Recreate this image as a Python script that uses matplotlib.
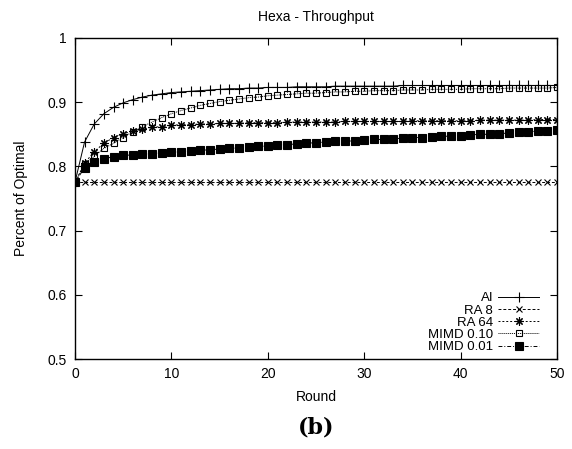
import matplotlib
matplotlib.use("Agg")
import matplotlib.pyplot as plt

plt.rcParams['font.family'] = ['Liberation Sans', 'DejaVu Sans']

rounds = list(range(51))

ai = [0.775, 0.838, 0.866, 0.882, 0.892, 0.899, 0.904, 0.908, 0.911, 0.913,
      0.915, 0.916, 0.917, 0.918, 0.919, 0.920, 0.921, 0.921, 0.922, 0.922,
      0.923, 0.923, 0.923, 0.924, 0.924, 0.924, 0.924, 0.925, 0.925, 0.925,
      0.925, 0.925, 0.925, 0.925, 0.926, 0.926, 0.926, 0.926, 0.926, 0.926,
      0.926, 0.926, 0.926, 0.926, 0.926, 0.926, 0.926, 0.926, 0.926, 0.926,
      0.926]

ra8 = [0.775] * 51

ra64 = [0.775, 0.805, 0.823, 0.836, 0.845, 0.851, 0.855, 0.858, 0.861, 0.862,
        0.864, 0.865, 0.865, 0.866, 0.866, 0.867, 0.867, 0.867, 0.868, 0.868,
        0.868, 0.868, 0.869, 0.869, 0.869, 0.869, 0.869, 0.869, 0.870, 0.870,
        0.870, 0.870, 0.870, 0.870, 0.870, 0.871, 0.871, 0.871, 0.871, 0.871,
        0.871, 0.871, 0.872, 0.872, 0.872, 0.872, 0.872, 0.872, 0.873, 0.873,
        0.873]

mimd10 = [0.775, 0.803, 0.816, 0.828, 0.836, 0.845, 0.854, 0.862, 0.869, 0.876,
          0.882, 0.887, 0.891, 0.895, 0.898, 0.901, 0.903, 0.905, 0.907, 0.908,
          0.910, 0.911, 0.912, 0.913, 0.914, 0.914, 0.915, 0.916, 0.916, 0.917,
          0.917, 0.918, 0.918, 0.918, 0.919, 0.919, 0.919, 0.920, 0.920, 0.920,
          0.920, 0.921, 0.921, 0.921, 0.921, 0.922, 0.922, 0.922, 0.922, 0.922,
          0.923]

mimd01 = [0.775, 0.798, 0.807, 0.812, 0.815, 0.817, 0.818, 0.819, 0.820, 0.821,
          0.822, 0.823, 0.824, 0.825, 0.826, 0.827, 0.828, 0.829, 0.830, 0.831,
          0.832, 0.833, 0.834, 0.835, 0.836, 0.837, 0.838, 0.839, 0.839, 0.840,
          0.841, 0.842, 0.842, 0.843, 0.844, 0.845, 0.845, 0.846, 0.847, 0.847,
          0.848, 0.849, 0.850, 0.850, 0.851, 0.852, 0.853, 0.854, 0.855, 0.855,
          0.857]

xticks = [0, 10, 20, 30, 40, 50]
yticks = [0.5, 0.6, 0.7, 0.8, 0.9, 1.0]
ytick_labels = ["0.5", "0.6", "0.7", "0.8", "0.9", "1"]

fig = plt.figure(figsize=(5.72, 4.49), dpi=100)
ax = fig.add_axes([0.131, 0.2004, 0.843, 0.715])

lw = 0.7
ax.plot(rounds, ai, color='black', lw=lw, ls='-', marker='+', ms=6.5, mew=0.8, label='AI')
ax.plot(rounds, ra8, color='black', lw=lw, ls=(0, (3, 2)), marker='x', ms=4.5, mew=0.8, label='RA 8')
ax.plot(rounds, ra64, color='black', lw=lw, ls=(0, (2, 2)), marker=(8, 2, 0), ms=6, mew=0.8, label='RA 64')
ax.plot(rounds, mimd10, color='black', lw=lw, ls=(0, (1, 1)), marker='s', ms=5, mew=0.8,
        mfc='none', label='MIMD 0.10')
ax.plot(rounds, mimd01, color='black', lw=lw, ls=(0, (4, 2, 1, 2)), marker='s', ms=5.5, mew=0.8,
        mfc='black', label='MIMD 0.01')

ax.set_xlim(0, 50)
ax.set_ylim(0.5, 1.0)
ax.set_xticks(xticks)
ax.set_yticks(yticks)
ax.set_yticklabels(ytick_labels)
ax.tick_params(direction='in', top=True, right=True, length=5, width=0.8, labelsize=10, pad=6)
for s in ax.spines.values():
    s.set_linewidth(1.0)

ax.set_xlabel("Round", fontsize=10, labelpad=6)
ax.set_ylabel("Percent of Optimal", fontsize=10, labelpad=14)
ax.set_title("Hexa - Throughput", fontsize=10, pad=12)

ax.legend(loc='lower right', bbox_to_anchor=(0.985, -0.015), frameon=False, markerfirst=False,
          fontsize=9.5, handlelength=3.1, handletextpad=0.4, labelspacing=0.0, borderpad=0.3)

fig.text(0.553, 0.047, "(b)", fontsize=16, fontweight='bold', family='DejaVu Serif',
         ha='center', va='center')

fig.savefig("out.png", dpi=100)
